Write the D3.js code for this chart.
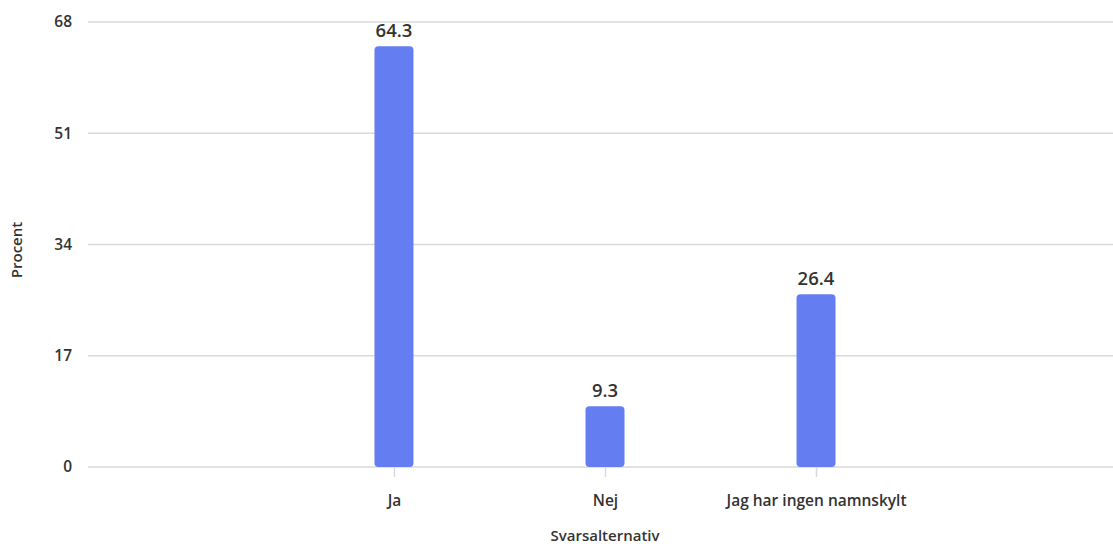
<!DOCTYPE html>
<html><head><meta charset="utf-8">
<script src="https://cdn.jsdelivr.net/npm/d3@7"></script>
<style>
html,body{margin:0;padding:0;background:#fff;overflow:hidden;}
svg{display:block;}
text{font-family:"Open Sans","Noto Sans",sans-serif;}
</style></head>
<body><svg id="c" width="1113" height="547"></svg>
<script>
const categories = ["Ja", "Nej", "Jag har ingen namnskylt"];
const values = [64.3, 9.3, 26.4];
const yTicks = [0, 17, 34, 51, 68];
const xTitle = "Svarsalternativ";
const yTitle = "Procent";

(function(){
const svg = d3.select("#c");
const mLeft = 88, mRight = 1122, mTop = 22, mBottom = 467;
const ff = '"Open Sans","Noto Sans",sans-serif';
const x = d3.scalePoint().domain(categories).range([mLeft, mRight]).padding(1.45);
const y = d3.scaleLinear().domain([0, 68]).range([mBottom, mTop]);
const barW = 39;

// gridlines
svg.append("g").selectAll("line").data(yTicks).join("line")
  .attr("x1", mLeft).attr("x2", 1113)
  .attr("y1", d => y(d)).attr("y2", d => y(d))
  .attr("stroke", "#d9d9d9").attr("stroke-width", 1.5);

// y labels
const yAxis = d3.axisLeft(y).tickValues(yTicks).tickSize(0).tickPadding(0);
const ya = svg.append("g").attr("transform", `translate(${mLeft - 16},0)`).call(yAxis);
ya.select(".domain").remove();
ya.selectAll("text").attr("font-size", 15.5).attr("font-weight", 600).attr("fill", "#333").attr("dy", "0.32em")
  .style("font-family", ff);

// x axis
const xAxis = d3.axisBottom(x).tickSize(10).tickPadding(18);
const xa = svg.append("g").attr("transform", `translate(0,${mBottom})`).call(xAxis);
xa.select(".domain").remove();
xa.selectAll("line").attr("stroke", "#d9d9d9").attr("stroke-width", 1.5);
xa.selectAll("text").attr("font-size", 15.5).attr("font-weight", 600).attr("fill", "#333")
  .style("font-family", ff);

// bars
svg.append("g").selectAll("rect").data(values).join("rect")
  .attr("x", (d, i) => x(categories[i]) - barW / 2)
  .attr("width", barW)
  .attr("y", d => y(d))
  .attr("height", d => mBottom - y(d))
  .attr("rx", 4).attr("ry", 4)
  .attr("fill", "#647ef2");

// value labels
svg.append("g").selectAll("text").data(values).join("text")
  .attr("x", (d, i) => x(categories[i]))
  .attr("y", d => y(d) - 9)
  .attr("text-anchor", "middle")
  .attr("font-size", 18.5).attr("font-weight", 600).attr("fill", "#333")
  .text(d => d3.format(".1f")(d));

// axis titles
svg.append("text").attr("x", 605).attr("y", 541).attr("text-anchor", "middle")
  .attr("font-size", 15).attr("font-weight", 600).attr("fill", "#333").text(xTitle);
svg.append("text").attr("transform", "translate(22,250) rotate(-90)").attr("text-anchor", "middle")
  .attr("font-size", 15).attr("font-weight", 600).attr("fill", "#333").text(yTitle);
})();
</script></body></html>
